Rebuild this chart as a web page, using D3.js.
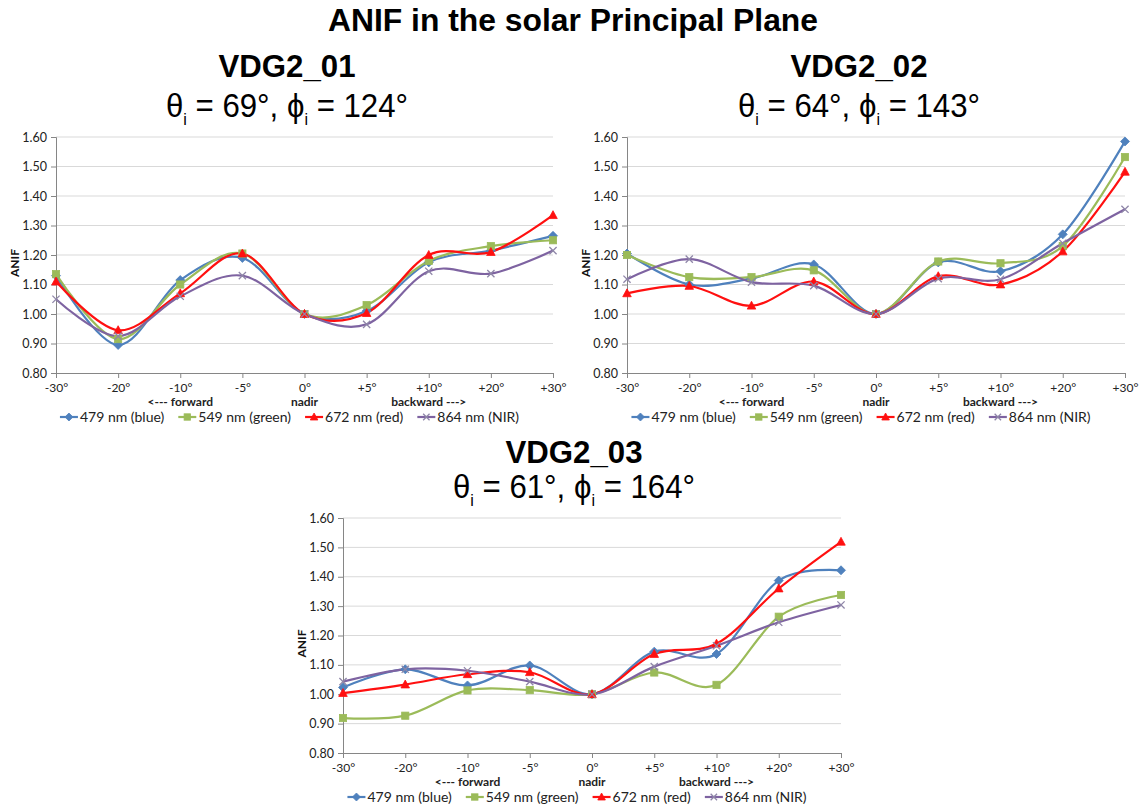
<!DOCTYPE html>
<html>
<head>
<meta charset="utf-8">
<script src="https://cdn.jsdelivr.net/npm/d3@7"></script>
<style>
  html, body { margin: 0; padding: 0; background: #ffffff; }
  svg { display: block; }
</style>
</head>
<body>
<svg id="chart" width="1144" height="812"></svg>
<script>
// Viewing-angle categories along the solar principal plane
const categories = ["-30°", "-20°", "-10°", "-5°", "0°", "+5°", "+10°", "+20°", "+30°"];
const subLabels = ["", "", "<--- forward", "", "nadir", "", "backward --->", "", ""];
const yTicks = [0.8, 0.9, 1.0, 1.1, 1.2, 1.3, 1.4, 1.5, 1.6];
const seriesNames = ["479 nm (blue)", "549 nm (green)", "672 nm (red)", "864 nm (NIR)"];

// VDG2_01
const blue01  = [1.130, 0.895, 1.115, 1.190, 1.000, 1.010, 1.175, 1.215, 1.265];
const green01 = [1.135, 0.915, 1.100, 1.205, 1.000, 1.030, 1.180, 1.230, 1.250];
const red01   = [1.110, 0.945, 1.070, 1.205, 1.000, 1.003, 1.200, 1.210, 1.335];
const nir01   = [1.050, 0.925, 1.060, 1.130, 1.000, 0.965, 1.145, 1.137, 1.215];

// VDG2_02
const blue02  = [1.205, 1.100, 1.120, 1.168, 1.000, 1.175, 1.145, 1.270, 1.585];
const green02 = [1.200, 1.125, 1.125, 1.148, 1.000, 1.178, 1.172, 1.230, 1.532];
const red02   = [1.070, 1.095, 1.028, 1.110, 1.000, 1.128, 1.100, 1.212, 1.482];
const nir02   = [1.118, 1.186, 1.108, 1.096, 1.000, 1.120, 1.118, 1.240, 1.355];

// VDG2_03
const blue03  = [1.023, 1.085, 1.030, 1.098, 1.000, 1.145, 1.137, 1.387, 1.422];
const green03 = [0.919, 0.927, 1.013, 1.014, 1.000, 1.074, 1.032, 1.264, 1.338];
const red03   = [1.004, 1.033, 1.068, 1.075, 1.000, 1.137, 1.172, 1.360, 1.519];
const nir03   = [1.043, 1.085, 1.080, 1.043, 1.000, 1.094, 1.165, 1.245, 1.304];

const colors = ["#4F81BD", "#9BBB59", "#FF1010", "#7E63A1"];
const markerColors = ["#4F81BD", "#9BBB59", "#FF1010", "#8F86A8"];
const markerKinds = ["diamond", "square", "triangle", "cross"];

const panels = [
  { name: "VDG2_01", theta: "69", phi: "124", series: [blue01, green01, red01, nir01],
    x0: 56, x1: 553, y0: 137, y1: 373, titleX: 287, nameY: 77, subY: 117 },
  { name: "VDG2_02", theta: "64", phi: "143", series: [blue02, green02, red02, nir02],
    x0: 627, x1: 1125, y0: 137, y1: 373, titleX: 859, nameY: 77, subY: 117 },
  { name: "VDG2_03", theta: "61", phi: "164", series: [blue03, green03, red03, nir03],
    x0: 343, x1: 841, y0: 518, y1: 753, titleX: 574, nameY: 463, subY: 498 }
];

const svg = d3.select("#chart");
const tickFont = "Lato, 'Open Sans', sans-serif";
const headFont = "'Liberation Sans', Arial, sans-serif";

// Main heading
svg.append("text")
  .attr("x", 573).attr("y", 31)
  .attr("text-anchor", "middle")
  .attr("font-family", headFont).attr("font-weight", "bold")
  .attr("font-size", 32)
  .attr("textLength", 490).attr("lengthAdjust", "spacingAndGlyphs")
  .attr("fill", "#000")
  .text("ANIF in the solar Principal Plane");

function drawMarker(g, kind, x, y, color, s) {
  if (kind === "diamond") {
    g.append("path")
      .attr("d", `M${x},${y - s}L${x + s},${y}L${x},${y + s}L${x - s},${y}Z`)
      .attr("fill", color).attr("stroke", color).attr("stroke-width", 0.8);
  } else if (kind === "square") {
    const h = s * 0.8;
    g.append("rect").attr("x", x - h).attr("y", y - h)
      .attr("width", 2 * h).attr("height", 2 * h)
      .attr("fill", color).attr("stroke", color).attr("stroke-width", 0.8);
  } else if (kind === "triangle") {
    g.append("path")
      .attr("d", `M${x},${y - s}L${x + s * 0.95},${y + s * 0.75}L${x - s * 0.95},${y + s * 0.75}Z`)
      .attr("fill", color).attr("stroke", color).attr("stroke-width", 0.8);
  } else {
    const h = s * 0.8;
    g.append("path")
      .attr("d", `M${x - h},${y - h}L${x + h},${y + h}M${x - h},${y + h}L${x + h},${y - h}`)
      .attr("fill", "none").attr("stroke", color).attr("stroke-width", 1.3);
  }
}

panels.forEach(p => {
  const g = svg.append("g");

  // Panel headings
  g.append("text")
    .attr("x", p.titleX).attr("y", p.nameY)
    .attr("text-anchor", "middle")
    .attr("font-family", headFont).attr("font-weight", "bold")
    .attr("font-size", 32)
    .attr("textLength", 137).attr("lengthAdjust", "spacingAndGlyphs")
    .text(p.name);

  // Incidence angles: theta_i and phi_i, drawn as separate pieces so the subscripts sit clear
  const parts = [
    { t: "θ", size: 33, dy: 0 },
    { t: "i", size: 17, dy: 8 },
    { t: ` = ${p.theta}°, `, size: 33, dy: 0 },
    { t: "ϕ", size: 33, dy: 0 },
    { t: "i", size: 17, dy: 8 },
    { t: ` = ${p.phi}°`, size: 33, dy: 0 }
  ];
  const sg = g.append("g");
  const nodes = parts.map(d => {
    const t = sg.append("text")
      .attr("y", p.subY + d.dy)
      .attr("font-family", headFont)
      .attr("font-size", d.size)
      .attr("fill", "#000")
      .attr("xml:space", "preserve")
      .style("white-space", "pre")
      .text(d.t);
    return { t, w: t.node().getComputedTextLength() };
  });
  const scaleX = 242 / d3.sum(nodes, d => d.w);
  let px = 0;
  nodes.forEach(d => { d.t.attr("x", px); px += d.w; });
  sg.attr("transform", `translate(${p.titleX - 121},0) scale(${scaleX},1)`);

  const x = d3.scalePoint().domain(categories).range([p.x0, p.x1]);
  const y = d3.scaleLinear().domain([0.8, 1.6]).range([p.y1, p.y0]);

  // Horizontal gridlines
  g.append("g").selectAll("line").data(yTicks.slice(1)).join("line")
    .attr("x1", p.x0).attr("x2", p.x1)
    .attr("y1", d => y(d)).attr("y2", d => y(d))
    .attr("stroke", "#D9D9D9").attr("stroke-width", 1);

  // Y axis
  const yAxis = g.append("g")
    .attr("transform", `translate(${p.x0},0)`)
    .call(d3.axisLeft(y).tickValues(yTicks).tickFormat(d3.format(".2f")).tickSize(5).tickPadding(4));
  yAxis.select(".domain").attr("stroke", "#868686");
  yAxis.selectAll(".tick line").attr("stroke", "#868686");
  yAxis.selectAll("text").attr("font-family", tickFont).attr("font-size", 12.5).attr("fill", "#222");

  // X axis
  const xAxis = g.append("g")
    .attr("transform", `translate(0,${p.y1})`)
    .call(d3.axisBottom(x).tickSize(5).tickPadding(5).tickSizeOuter(0));
  xAxis.select(".domain").attr("stroke", "#868686");
  xAxis.selectAll(".tick line").attr("stroke", "#868686");
  xAxis.selectAll("text").attr("font-family", tickFont).attr("font-size", 12).attr("fill", "#222");

  // Second line of category labels
  g.append("g").selectAll("text").data(categories).join("text")
    .attr("x", d => x(d)).attr("y", p.y1 + 29).attr("dy", "0.35em")
    .attr("text-anchor", "middle")
    .attr("font-family", tickFont).attr("font-weight", "bold").attr("font-size", 12)
    .attr("fill", "#222")
    .text((d, i) => subLabels[i]);

  // Y axis title
  g.append("text")
    .attr("transform", `translate(${p.x0 - 41},${(p.y0 + p.y1) / 2 + 8}) rotate(-90)`)
    .attr("text-anchor", "middle").attr("dy", "0.35em")
    .attr("font-family", tickFont).attr("font-weight", "bold").attr("font-size", 12)
    .attr("fill", "#111")
    .text("ANIF");

  // Smoothed series lines
  const line = d3.line()
    .x((d, i) => x(categories[i]))
    .y(d => y(d))
    .curve(d3.curveCatmullRom.alpha(0));

  p.series.forEach((vals, si) => {
    g.append("path")
      .datum(vals)
      .attr("d", line)
      .attr("fill", "none")
      .attr("stroke", colors[si])
      .attr("stroke-width", 2.2);
  });
  p.series.forEach((vals, si) => {
    const mg = g.append("g");
    vals.forEach((v, i) => drawMarker(mg, markerKinds[si], x(categories[i]), y(v), markerColors[si], 4.5));
  });

  // Legend
  const lg = g.append("g");
  const ly = p.y1 + 44;
  const items = seriesNames.map((n, si) => {
    const t = lg.append("text")
      .attr("y", ly).attr("dy", "0.35em")
      .attr("font-family", tickFont).attr("font-size", 14).attr("fill", "#222")
      .text(n);
    return { t, w: t.node().getComputedTextLength(), si };
  });
  const lineLen = 18, gapText = 2, gapItem = 14;
  const total = d3.sum(items, d => lineLen + gapText + d.w) + gapItem * (items.length - 1);
  let cx = (p.x0 + p.x1) / 2 - 15 - total / 2;
  items.forEach(d => {
    lg.append("line")
      .attr("x1", cx).attr("x2", cx + lineLen)
      .attr("y1", ly).attr("y2", ly)
      .attr("stroke", colors[d.si]).attr("stroke-width", 2.2);
    drawMarker(lg, markerKinds[d.si], cx + lineLen / 2, ly, markerColors[d.si], 4);
    d.t.attr("x", cx + lineLen + gapText);
    cx += lineLen + gapText + d.w + gapItem;
  });
});
</script>
</body>
</html>
